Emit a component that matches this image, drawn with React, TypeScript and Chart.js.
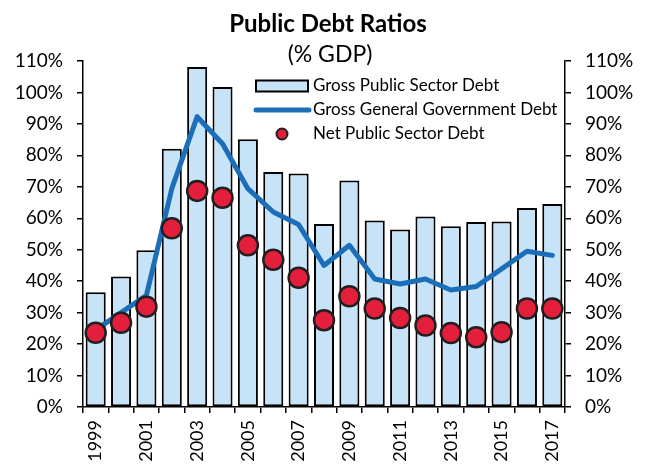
import React, { useEffect, useRef } from "react";
import { Chart, registerables } from "chart.js";

Chart.register(...registerables);

const years = ["1999","2000","2001","2002","2003","2004","2005","2006","2007","2008","2009","2010","2011","2012","2013","2014","2015","2016","2017"];
const grossPublicSector = [36.5, 41.5, 49.8, 82.1, 108.1, 101.7, 85.1, 74.7, 74.2, 58.2, 72.0, 59.3, 56.4, 60.6, 57.5, 58.8, 59.0, 63.3, 64.5];
const grossGeneralGov = [24.5, 30.0, 35.5, 69.4, 92.3, 83.7, 69.4, 62.0, 58.0, 45.0, 51.4, 40.7, 39.1, 40.7, 37.2, 38.3, 43.9, 49.5, 48.2];
const netPublicSector = [23.6, 26.8, 31.9, 56.8, 68.7, 66.5, 51.4, 46.8, 41.1, 27.6, 35.2, 31.3, 28.3, 25.9, 23.5, 22.2, 23.8, 31.3, 31.3];
const seriesNames = ["Gross Public Sector Debt", "Gross General Government Debt", "Net Public Sector Debt"];
const titleText = "Public Debt Ratios";
const subtitleText = "(% GDP)";

const FONT = "Lato, 'Open Sans', sans-serif";
const BAR_FILL = "#C7E3F8";
const LINE_COLOR = "#1C6EB9";
const DOT_FILL = "#E41F3B";
const DOT_BORDER = "#231F20";

const overlayPlugin = {
  id: "overlay",
  afterDraw(chart: any) {
    const ctx = chart.ctx;
    ctx.save();
    ctx.fillStyle = "#000";
    ctx.textAlign = "center";
    ctx.textBaseline = "middle";
    ctx.font = `bold 24px ${FONT}`;
    ctx.fillText(titleText, 328, 24);
    ctx.font = `23px ${FONT}`;
    ctx.fillText(subtitleText, 330, 55);

    // legend
    const tx = 313;
    ctx.textAlign = "left";
    ctx.font = `17px ${FONT}`;
    // bar
    ctx.fillStyle = BAR_FILL;
    ctx.fillRect(256, 80.5, 52, 11);
    ctx.strokeStyle = "#000";
    ctx.lineWidth = 2;
    ctx.strokeRect(256, 80.5, 52, 11);
    ctx.fillStyle = "#000";
    ctx.fillText(seriesNames[0], tx, 86);
    // line
    ctx.beginPath();
    ctx.strokeStyle = LINE_COLOR;
    ctx.lineWidth = 5;
    ctx.lineCap = "round";
    ctx.moveTo(256, 110);
    ctx.lineTo(309, 110);
    ctx.stroke();
    ctx.fillText(seriesNames[1], tx, 110);
    // dot
    ctx.beginPath();
    ctx.arc(282, 134, 5.5, 0, Math.PI * 2);
    ctx.fillStyle = DOT_FILL;
    ctx.fill();
    ctx.lineWidth = 2;
    ctx.strokeStyle = DOT_BORDER;
    ctx.stroke();
    ctx.fillStyle = "#000";
    ctx.fillText(seriesNames[2], tx, 134);
    ctx.restore();
  },
};

export default function App() {
  const ref = useRef<HTMLCanvasElement | null>(null);
  useEffect(() => {
    document.body.style.margin = "0";
    if (!ref.current) return;
    const yTicks = {
      color: "#000",
      font: { family: FONT, size: 19 },
      stepSize: 10,
      padding: 14,
      callback: (v: any) => `${v}%`,
    };
    const chart = new Chart(ref.current, {
      type: "bar",
      data: {
        labels: years,
        datasets: [
          {
            type: "line",
            label: seriesNames[2],
            data: netPublicSector,
            showLine: false,
            pointRadius: 10,
            pointBackgroundColor: DOT_FILL,
            pointBorderColor: DOT_BORDER,
            pointBorderWidth: 2.5,
            order: 0,
            yAxisID: "y",
          } as any,
          {
            type: "line",
            label: seriesNames[1],
            data: grossGeneralGov,
            borderColor: LINE_COLOR,
            borderWidth: 5,
            pointRadius: 0,
            tension: 0,
            borderCapStyle: "round",
            borderJoinStyle: "round",
            order: 1,
            yAxisID: "y",
          } as any,
          {
            type: "bar",
            label: seriesNames[0],
            data: grossPublicSector,
            backgroundColor: BAR_FILL,
            borderColor: "#000",
            borderWidth: 2,
            borderSkipped: false,
            barPercentage: 0.79,
            categoryPercentage: 1,
            order: 2,
            yAxisID: "y",
          } as any,
        ],
      },
      options: {
        responsive: false,
        animation: false,
        layout: { padding: { top: 61, left: 0, right: 0, bottom: 0 } },
        plugins: { legend: { display: false }, title: { display: false }, tooltip: { enabled: false } },
        scales: {
          x: {
            offset: true,
            grid: { offset: true, drawOnChartArea: false, drawTicks: true, tickLength: 6, color: "#000", lineWidth: 1.5 },
            border: { color: "#000", width: 1.5 },
            ticks: {
              autoSkip: false,
              minRotation: 90,
              maxRotation: 90,
              padding: 7,
              color: "#000",
              font: { family: FONT, size: 18 },
              callback: (_v: any, i: number) => (i % 2 === 0 ? years[i] : ""),
            },
            afterFit: (s: any) => { s.height = 57; },
          },
          y: {
            position: "left",
            min: 0,
            max: 110,
            grid: { drawOnChartArea: false, drawTicks: true, tickLength: 6, color: "#000", lineWidth: 1.5 },
            border: { color: "#000", width: 1.5 },
            ticks: yTicks,
            afterFit: (s: any) => { s.width = 83; },
          },
          y2: {
            position: "right",
            min: 0,
            max: 110,
            grid: { drawOnChartArea: false, drawTicks: true, tickLength: 6, color: "#000", lineWidth: 1.5 },
            border: { color: "#000", width: 1.5 },
            ticks: yTicks,
            afterFit: (s: any) => { s.width = 80; },
          },
        },
      },
      plugins: [overlayPlugin],
    });
    return () => chart.destroy();
  }, []);
  return (
    <div style={{ position: "absolute", left: 0, top: 0, width: 645, height: 464 }}>
      <canvas ref={ref} width={645} height={464} />
    </div>
  );
}
